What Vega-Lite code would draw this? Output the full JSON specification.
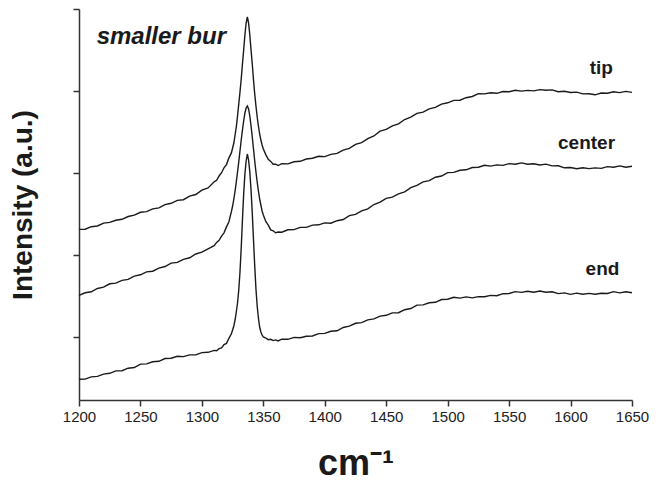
{
  "$schema": "https://vega.github.io/schema/vega-lite/v6.json",
  "width": 553,
  "height": 391,
  "autosize": {"type": "none"},
  "padding": {"left": 79, "top": 9, "right": 35, "bottom": 91},
  "background": "white",
  "config": {"view": {"stroke": null}, "font": "Liberation Sans"},
  "layer": [
    {
      "data": {"values": [
        {"w":1200,"tip":170.6,"center":104.6,"end":20.7},
        {"w":1205,"tip":170.8,"center":107.2,"end":20.9},
        {"w":1210,"tip":173.3,"center":108.2,"end":23.1},
        {"w":1215,"tip":174.0,"center":111.5,"end":23.6},
        {"w":1220,"tip":176.9,"center":112.8,"end":25.9},
        {"w":1225,"tip":177.6,"center":116.2,"end":26.7},
        {"w":1230,"tip":179.7,"center":116.9,"end":29.1},
        {"w":1235,"tip":180.7,"center":119.6,"end":29.3},
        {"w":1240,"tip":183.5,"center":120.6,"end":31.8},
        {"w":1245,"tip":184.8,"center":123.9,"end":32.5},
        {"w":1250,"tip":187.7,"center":125.2,"end":35.9},
        {"w":1255,"tip":188.4,"center":128.1,"end":36.1},
        {"w":1260,"tip":191.1,"center":128.8,"end":38.2},
        {"w":1265,"tip":192.1,"center":131.8,"end":38.7},
        {"w":1270,"tip":195.4,"center":133.5,"end":41.5},
        {"w":1275,"tip":196.7,"center":136.9,"end":41.8},
        {"w":1280,"tip":199.6,"center":137.6,"end":43.7},
        {"w":1285,"tip":200.3,"center":140.7,"end":43.4},
        {"w":1290,"tip":203.8,"center":142.2,"end":45.1},
        {"w":1295,"tip":205.5,"center":146.0,"end":45.1},
        {"w":1300,"tip":209.9,"center":147.8,"end":47.4},
        {"w":1305,"tip":212.1,"center":151.2,"end":47.7},
        {"w":1310,"tip":218.2,"center":154.4,"end":49.6},
        {"w":1312,"tip":219.7,"center":157.6,"end":49.3},
        {"w":1314,"tip":224.0,"center":159.6,"end":51.3},
        {"w":1316,"tip":227.3,"center":163.9,"end":52.0},
        {"w":1318,"tip":232.2,"center":167.2,"end":55.4},
        {"w":1320,"tip":235.4,"center":173.1,"end":56.6},
        {"w":1322,"tip":242.1,"center":178.3,"end":61.7},
        {"w":1324,"tip":247.1,"center":188.3,"end":66.2},
        {"w":1325,"tip":252,"center":194,"end":70},
        {"w":1326,"tip":257,"center":201,"end":74},
        {"w":1327,"tip":265,"center":209,"end":80},
        {"w":1328,"tip":273,"center":218,"end":88},
        {"w":1329,"tip":284,"center":228,"end":97},
        {"w":1330,"tip":296,"center":238,"end":110},
        {"w":1331,"tip":308,"center":249,"end":128},
        {"w":1332,"tip":321,"center":260,"end":152},
        {"w":1333,"tip":336,"center":270,"end":180},
        {"w":1334,"tip":350,"center":279,"end":206},
        {"w":1335,"tip":365,"center":287,"end":226},
        {"w":1336,"tip":377,"center":292,"end":239},
        {"w":1337,"tip":383,"center":294,"end":246},
        {"w":1338,"tip":377,"center":291,"end":240},
        {"w":1339,"tip":365,"center":284,"end":228},
        {"w":1340,"tip":350,"center":274,"end":210},
        {"w":1341,"tip":336,"center":263,"end":187},
        {"w":1342,"tip":320,"center":251,"end":160},
        {"w":1343,"tip":306,"center":239,"end":134},
        {"w":1344,"tip":294,"center":228,"end":111},
        {"w":1345,"tip":283,"center":218,"end":94},
        {"w":1346,"tip":274,"center":209,"end":82},
        {"w":1347,"tip":266,"center":201,"end":73},
        {"w":1348,"tip":260,"center":195,"end":68},
        {"w":1349,"tip":255,"center":189,"end":65},
        {"w":1350,"tip":251,"center":185,"end":63},
        {"w":1352,"tip":245.4,"center":178.5,"end":62.0},
        {"w":1354,"tip":240.7,"center":174.9,"end":60.3},
        {"w":1356,"tip":238.6,"center":170.1,"end":60.7},
        {"w":1358,"tip":235.8,"center":169.2,"end":59.4},
        {"w":1360,"tip":235.8,"center":167.2,"end":60.1},
        {"w":1362,"tip":234.5,"center":168.0,"end":59.1},
        {"w":1365,"tip":236.4,"center":167.8,"end":60.9},
        {"w":1370,"tip":236.1,"center":170.2,"end":60.7},
        {"w":1375,"tip":238.2,"center":170.4,"end":62.6},
        {"w":1380,"tip":238.7,"center":172.6,"end":62.3},
        {"w":1385,"tip":241.0,"center":172.6,"end":63.8},
        {"w":1390,"tip":241.8,"center":174.9,"end":64.0},
        {"w":1395,"tip":243.7,"center":175.2,"end":66.4},
        {"w":1400,"tip":243.4,"center":177.1,"end":66.6},
        {"w":1405,"tip":245.6,"center":176.8,"end":68.7},
        {"w":1410,"tip":246.6,"center":179.3,"end":69.2},
        {"w":1415,"tip":249.9,"center":180.5,"end":72.5},
        {"w":1420,"tip":251.7,"center":184.4,"end":73.8},
        {"w":1425,"tip":255.6,"center":185.6,"end":76.7},
        {"w":1430,"tip":257.3,"center":189.2,"end":77.4},
        {"w":1435,"tip":261.3,"center":191.2,"end":80.1},
        {"w":1440,"tip":264.0,"center":195.5,"end":81.1},
        {"w":1445,"tip":268.9,"center":197.8,"end":83.9},
        {"w":1450,"tip":270.6,"center":201.7,"end":84.7},
        {"w":1455,"tip":274.2,"center":202.9,"end":87.1},
        {"w":1460,"tip":276.2,"center":206.1,"end":87.3},
        {"w":1465,"tip":280.5,"center":208.1,"end":90.3},
        {"w":1470,"tip":282.8,"center":212.4,"end":91.5},
        {"w":1475,"tip":286.7,"center":214.7,"end":94.9},
        {"w":1480,"tip":287.9,"center":218.1,"end":95.1},
        {"w":1485,"tip":291.1,"center":219.3,"end":97.2},
        {"w":1490,"tip":292.6,"center":222.8,"end":97.7},
        {"w":1495,"tip":295.9,"center":224.0,"end":100.5},
        {"w":1500,"tip":297.2,"center":227.4,"end":100.8},
        {"w":1505,"tip":299.6,"center":227.6,"end":102.7},
        {"w":1510,"tip":299.8,"center":229.7,"end":101.9},
        {"w":1515,"tip":302.3,"center":230.2,"end":103.1},
        {"w":1520,"tip":303.5,"center":232.5,"end":102.1},
        {"w":1525,"tip":306.4,"center":232.8,"end":103.4},
        {"w":1530,"tip":306.1,"center":234.7,"end":103.2},
        {"w":1535,"tip":307.2,"center":233.9,"end":104.6},
        {"w":1540,"tip":306.7,"center":235.1,"end":104.3},
        {"w":1545,"tip":308.5,"center":234.6,"end":106.3},
        {"w":1550,"tip":308.3,"center":236.4,"end":106.5},
        {"w":1555,"tip":309.7,"center":235.7,"end":108.4},
        {"w":1560,"tip":308.9,"center":237.1,"end":107.6},
        {"w":1565,"tip":309.6,"center":235.8,"end":108.7},
        {"w":1570,"tip":309.1,"center":236.3,"end":107.7},
        {"w":1575,"tip":310.4,"center":235.0,"end":109.0},
        {"w":1580,"tip":309.7,"center":235.9,"end":107.8},
        {"w":1585,"tip":310.1,"center":234.1,"end":108.2},
        {"w":1590,"tip":308.3,"center":234.2,"end":106.4},
        {"w":1595,"tip":308.8,"center":232.2,"end":107.1},
        {"w":1600,"tip":307.5,"center":232.5,"end":105.6},
        {"w":1605,"tip":307.9,"center":231.3,"end":106.9},
        {"w":1610,"tip":306.1,"center":232.2,"end":105.7},
        {"w":1615,"tip":306.2,"center":231.4,"end":106.6},
        {"w":1620,"tip":305.2,"center":232.1,"end":105.8},
        {"w":1625,"tip":307.0,"center":231.6,"end":106.8},
        {"w":1630,"tip":306.8,"center":233.4,"end":106.5},
        {"w":1635,"tip":308.2,"center":232.7,"end":108.4},
        {"w":1640,"tip":307.4,"center":234.1,"end":107.1},
        {"w":1645,"tip":308.6,"center":232.8,"end":108.2},
        {"w":1650,"tip":307.6,"center":233.8,"end":107.2}
      ]},
      "transform": [{"fold": ["tip", "center", "end"], "as": ["series", "I"]}],
      "mark": {"type": "line", "color": "#1a1a1a", "strokeWidth": 1.4},
      "encoding": {
        "x": {
          "field": "w", "type": "quantitative",
          "scale": {"domain": [1200, 1650], "nice": false, "zero": false},
          "axis": {
            "values": [1200, 1250, 1300, 1350, 1400, 1450, 1500, 1550, 1600, 1650],
            "format": "d", "title": "cm⁻¹", "titleFontSize": 36, "titleFontWeight": "bold",
            "titleColor": "#1a1a1a", "titlePadding": 22, "labelFontSize": 15, "labelColor": "#222222",
            "labelPadding": 3, "labelFlush": false, "grid": false,
            "domainColor": "#333333", "domainWidth": 1.5, "tickColor": "#333333", "tickWidth": 1.5, "tickSize": 6
          }
        },
        "y": {
          "field": "I", "type": "quantitative",
          "scale": {"domain": [0, 391], "nice": false, "zero": false},
          "axis": {
            "values": [63, 145, 227, 309, 391], "labels": false,
            "title": "Intensity (a.u.)", "titleFontSize": 28, "titleFontWeight": "bold",
            "titleColor": "#1a1a1a", "titlePadding": 35, "grid": false,
            "domainColor": "#333333", "domainWidth": 1.5, "tickColor": "#333333", "tickWidth": 1.5, "tickSize": 6
          }
        },
        "detail": {"field": "series", "type": "nominal"}
      }
    },
    {
      "data": {"values": [
        {"w": 1625, "I": 332, "label": "tip"},
        {"w": 1613, "I": 257, "label": "center"},
        {"w": 1626, "I": 131, "label": "end"}
      ]},
      "mark": {"type": "text", "fontWeight": "bold", "fontSize": 19, "color": "#1a1a1a", "baseline": "middle", "align": "center"},
      "encoding": {
        "x": {"field": "w", "type": "quantitative"},
        "y": {"field": "I", "type": "quantitative"},
        "text": {"field": "label"}
      }
    },
    {
      "data": {"values": [
        {"w": 1267, "I": 363, "label": "smaller bur"}
      ]},
      "mark": {"type": "text", "fontWeight": "bold", "fontStyle": "italic", "fontSize": 24, "color": "#1a1a1a", "baseline": "middle", "align": "center"},
      "encoding": {
        "x": {"field": "w", "type": "quantitative"},
        "y": {"field": "I", "type": "quantitative"},
        "text": {"field": "label"}
      }
    }
  ]
}
